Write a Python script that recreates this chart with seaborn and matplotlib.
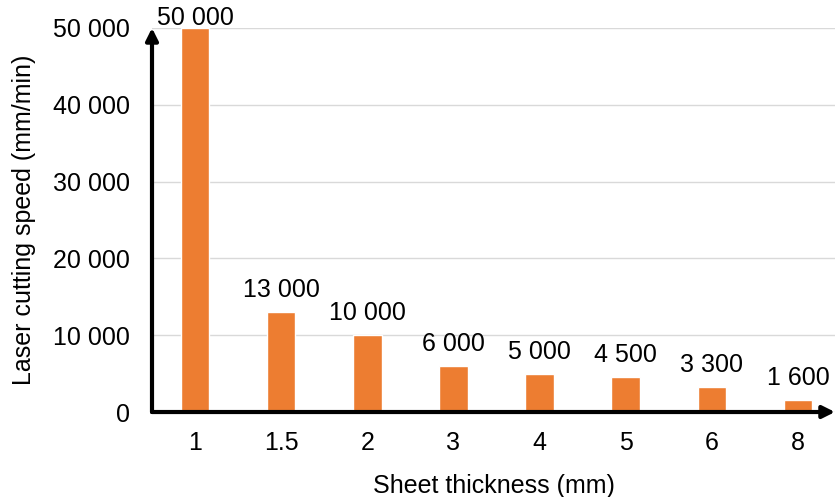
import matplotlib
matplotlib.use("Agg")
import matplotlib.pyplot as plt
import pandas as pd
import seaborn as sns

thickness = ["1", "1.5", "2", "3", "4", "5", "6", "8"]
speed = [50000, 13000, 10000, 6000, 5000, 4500, 3300, 1600]

df = pd.DataFrame({"thickness": thickness, "speed": speed})

sns.set_style("white")
plt.rcParams["font.family"] = ["Liberation Sans", "DejaVu Sans"]
plt.rcParams["text.color"] = "black"
plt.rcParams["xtick.color"] = "black"
plt.rcParams["ytick.color"] = "black"
plt.rcParams["axes.labelcolor"] = "black"

fig = plt.figure(figsize=(8.37, 4.97), dpi=100)
ax = fig.add_axes([0.1816, 0.171, 0.8160, 0.7727])

sns.barplot(data=df, x="thickness", y="speed", color="#ED7D31", width=0.33,
            saturation=1, ax=ax)

ax.set_xlim(-0.5, 7.43)
ax.set_ylim(0, 50000)
ax.set_yticks(range(0, 50001, 10000))
ax.set_yticklabels([f"{v:,}".replace(",", " ") for v in range(0, 50001, 10000)])
ax.yaxis.grid(True, color="#D9D9D9", linewidth=1)
ax.set_axisbelow(True)

for s in ["top", "right", "left", "bottom"]:
    ax.spines[s].set_visible(False)

# axis arrows
ax.annotate("", xy=(0, 1.0), xytext=(0, 0), xycoords="axes fraction",
            arrowprops=dict(arrowstyle="-|>", color="black", lw=3,
                            mutation_scale=18, shrinkA=0, shrinkB=0))
ax.annotate("", xy=(1.0, 0), xytext=(0, 0), xycoords="axes fraction",
            arrowprops=dict(arrowstyle="-|>", color="black", lw=3,
                            mutation_scale=18, shrinkA=0, shrinkB=0))

ax.tick_params(axis="both", length=0, labelsize=18)
ax.tick_params(axis="y", pad=16)
ax.tick_params(axis="x", pad=14)

ymax = ax.get_ylim()[1]
for i, v in enumerate(speed):
    ax.text(i, min(v + 1300, ymax - 200), f"{v:,}".replace(",", " "),
            ha="center", va="bottom", fontsize=18, clip_on=False)

ax.set_xlabel("Sheet thickness (mm)", fontsize=18, labelpad=13)
ax.set_ylabel("Laser cutting speed (mm/min)", fontsize=18, labelpad=12)

fig.savefig("out.png", dpi=100)
